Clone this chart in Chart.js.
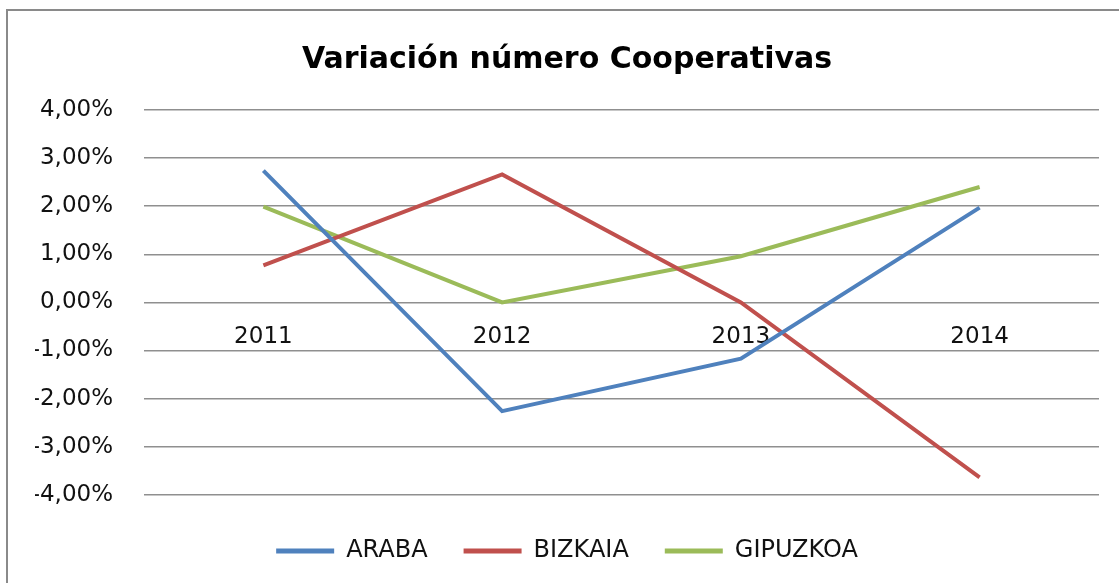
<!DOCTYPE html>
<html>
<head>
<meta charset="utf-8">
<title>Variación número Cooperativas</title>
<script src="https://cdn.jsdelivr.net/npm/chart.js@4"></script>
<style>
  html, body { margin: 0; padding: 0; background: #fff; }
  #wrap { position: relative; width: 1119px; height: 583px; }
</style>
</head>
<body>
<div id="wrap"><canvas id="chart" width="1119" height="583"></canvas></div>
<script>
// ─── Data ────────────────────────────────────────────────────
const years    = ['2011', '2012', '2013', '2014'];
const araba    = [2.74, -2.26, -1.17, 1.97];
const bizkaia  = [0.77, 2.66, 0.0, -3.64];
const gipuzkoa = [1.99, 0.0, 0.96, 2.40];

const COLORS = {
  blue:  '#4F81BD',
  red:   '#C0504D',
  green: '#9BBB59',
};

const FONT = "'DejaVu Sans', 'Open Sans', sans-serif";

// gray frame around the chart (only top/left visible in the reference)
const framePlugin = {
  id: 'frame',
  beforeDraw(chart) {
    const ctx = chart.ctx;
    ctx.save();
    ctx.fillStyle = '#fff';
    ctx.fillRect(0, 0, chart.width, chart.height);
    ctx.strokeStyle = '#8a8a8a';
    ctx.lineWidth = 2;
    ctx.beginPath();
    ctx.moveTo(7, chart.height);
    ctx.lineTo(7, 10);
    ctx.lineTo(chart.width, 10);
    ctx.stroke();
    ctx.restore();
  },
};

function series(label, data, color) {
  return {
    label,
    data,
    borderColor: color,
    backgroundColor: color,
    borderWidth: 4,
    pointRadius: 0,
    tension: 0,
    fill: false,
  };
}

new Chart(document.getElementById('chart'), {
  type: 'line',
  data: {
    labels: years,
    datasets: [
      series('ARABA', araba, COLORS.blue),
      series('BIZKAIA', bizkaia, COLORS.red),
      series('GIPUZKOA', gipuzkoa, COLORS.green),
    ],
  },
  plugins: [framePlugin],
  options: {
    responsive: false,
    animation: false,
    layout: { padding: { left: 35, right: 20, top: 20, bottom: 10 } },
    plugins: {
      title: {
        display: true,
        text: 'Variación número Cooperativas',
        color: '#000',
        font: { family: FONT, size: 30, weight: 'bold' },
        padding: { top: 22, bottom: 32 },
      },
      legend: {
        position: 'bottom',
        title: { display: true, text: '', font: { size: 1 }, padding: { top: 7, bottom: 0 } },
        labels: {
          color: '#111',
          font: { family: FONT, size: 24 },
          boxWidth: 58,
          boxHeight: 5,
          padding: 36,
          generateLabels: chart => chart.data.datasets.map((ds, i) => ({
            text: ds.label,
            fillStyle: ds.borderColor,
            strokeStyle: ds.borderColor,
            lineWidth: 0,
            hidden: false,
            datasetIndex: i,
            fontColor: '#111',
          })),
        },
      },
      tooltip: { enabled: false },
    },
    scales: {
      x: {
        position: { y: 0 },
        offset: true,
        grid: { display: false, drawTicks: false },
        border: { display: false },
        ticks: {
          color: '#111',
          font: { family: FONT, size: 23 },
          padding: 21,
          maxRotation: 0,
        },
      },
      y: {
        min: -4,
        max: 4,
        grid: { color: '#8f8f8f', lineWidth: 1.5, drawTicks: false },
        border: { display: false },
        ticks: {
          stepSize: 1,
          color: '#111',
          font: { family: FONT, size: 23 },
          padding: 31,
          callback: v => v.toFixed(2).replace('.', ',') + '%',
        },
        afterFit: scale => { scale.width = 109; },
      },
    },
  },
});
</script>
</body>
</html>
